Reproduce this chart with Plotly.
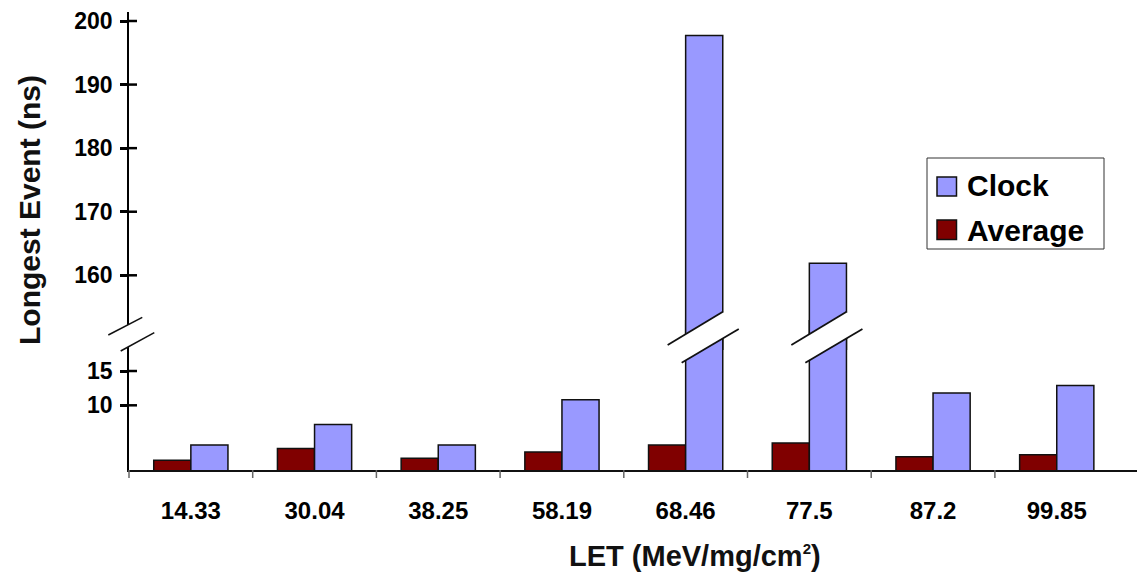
import plotly.graph_objects as go

# ---------------- data ----------------
categories = ["14.33", "30.04", "38.25", "58.19", "68.46", "77.5", "87.2", "99.85"]
clock = [4.2, 7.2, 4.2, 10.8, 197.7, 161.9, 11.8, 12.9]
average = [2.0, 3.7, 2.3, 3.2, 4.2, 4.5, 2.5, 2.8]
lower_ticks = [10, 15]
upper_ticks = [160, 170, 180, 190, 200]
broken_categories = ["68.46", "77.5"]

CLOCK_COLOR = "#9999FF"
AVG_COLOR = "#800000"
FONT = "Liberation Sans, Arial, sans-serif"

# ---------------- layout geometry (screen pixels) ----------------
OFF = 8                                   # page body margin
FIG_W, FIG_H = 1145 - OFF, 583 - OFF
PL, PR, PT, PB = 129, 1145, 12, 470       # plot area edges (screen px)
PW, PH = PR - PL, PB - PT

def xp(px):
    return (px - PL) / PW

def yp(py):
    return (PB - py) / PH

cat_w = 123.7
xmax = PW / cat_w - 0.5

low_px_per_unit = 6.86
low_min = 0.57
low_top_px = 320
low_range = [low_min, low_min + (PB - low_top_px) / low_px_per_unit]

y200_px = 21.0
y160_px = 275.3
up_px_per_unit = (y160_px - y200_px) / 40
up_bot_px = 350
up_range = [200 - (up_bot_px - y200_px) / up_px_per_unit,
            200 + (y200_px - PT) / up_px_per_unit]

fig = go.Figure()

bar_line = dict(color="#111111", width=1.5)

fig.add_trace(go.Bar(x=categories, y=average, name="Average", marker=dict(color=AVG_COLOR, line=bar_line),
                     xaxis="x", yaxis="y", showlegend=False))
fig.add_trace(go.Bar(x=categories, y=clock, name="Clock", marker=dict(color=CLOCK_COLOR, line=bar_line),
                     xaxis="x", yaxis="y", showlegend=False))
fig.add_trace(go.Bar(x=categories, y=average, name="Average", marker=dict(color=AVG_COLOR, line=bar_line),
                     xaxis="x2", yaxis="y2", showlegend=False))
fig.add_trace(go.Bar(x=categories, y=clock, name="Clock", marker=dict(color=CLOCK_COLOR, line=bar_line),
                     xaxis="x2", yaxis="y2", showlegend=False))

shapes = []
annotations = []

for v in lower_ticks:
    shapes.append(dict(type="line", xref="paper", yref="y", x0=0, x1=xp(PL + 8), y0=v, y1=v,
                       line=dict(color="black", width=2.5)))
for v in upper_ticks:
    shapes.append(dict(type="line", xref="paper", yref="y2", x0=0, x1=xp(PL + 8), y0=v, y1=v,
                       line=dict(color="black", width=2.5)))

for i in range(len(categories)):
    bx = PL + i * cat_w
    shapes.append(dict(type="line", xref="paper", yref="paper", x0=xp(bx), x1=xp(bx),
                       y0=0, y1=yp(PB + 8), line=dict(color="#666666", width=1.5)))

def add_break(ax, ay, bx, by, cx, cy, dx, dy, lw=1.8):
    shapes.append(dict(type="path", xref="paper", yref="paper",
                       path=f"M {xp(ax)},{yp(ay)} L {xp(bx)},{yp(by)} L {xp(dx)},{yp(dy)} L {xp(cx)},{yp(cy)} Z",
                       fillcolor="white", line=dict(width=0), layer="above"))
    shapes.append(dict(type="line", xref="paper", yref="paper", x0=xp(ax), y0=yp(ay), x1=xp(bx), y1=yp(by),
                       line=dict(color="#111111", width=lw), layer="above"))
    shapes.append(dict(type="line", xref="paper", yref="paper", x0=xp(cx), y0=yp(cy), x1=xp(dx), y1=yp(dy),
                       line=dict(color="#111111", width=lw), layer="above"))

add_break(PL - 20.7, 335, PL + 13.3, 317.3, PL - 8.3, 351, PL + 25.3, 332.7, lw=1.5)

for c in broken_categories:
    i = categories.index(c)
    left = PL + (i + 0.5) * cat_w
    right = left + 0.3 * cat_w
    add_break(left - 18, 345, right + 0.5, 311.5, left - 4, 362.7, right + 16, 329)

# legend
shapes.append(dict(type="rect", xref="paper", yref="paper", x0=xp(927), x1=xp(1104), y0=yp(158), y1=yp(249),
                   line=dict(color="#333333", width=1), fillcolor="white"))
shapes.append(dict(type="rect", xref="paper", yref="paper", x0=xp(937), x1=xp(956.5), y0=yp(177), y1=yp(196),
                   line=dict(color="#111111", width=1.5), fillcolor=CLOCK_COLOR))
shapes.append(dict(type="rect", xref="paper", yref="paper", x0=xp(937), x1=xp(956.5), y0=yp(220), y1=yp(239.5),
                   line=dict(color="#111111", width=1.5), fillcolor=AVG_COLOR))
annotations.append(dict(text="Clock", xref="paper", yref="paper", x=xp(965), y=yp(185), xanchor="left",
                        yanchor="middle", showarrow=False,
                        font=dict(family=FONT, size=30, color="black", weight="bold")))
annotations.append(dict(text="Average", xref="paper", yref="paper", x=xp(965), y=yp(230), xanchor="left",
                        yanchor="middle", showarrow=False,
                        font=dict(family=FONT, size=30, color="black", weight="bold")))

annotations.append(dict(text="LET (MeV/mg/cm<sup><span style='font-size:15px'>2</span></sup>)",
                        xref="paper", yref="paper", x=xp(695), y=yp(556),
                        xanchor="center", yanchor="middle", showarrow=False,
                        font=dict(family=FONT, size=29, color="#111111", weight="bold")))
annotations.append(dict(text="Longest Event (ns)", xref="paper", yref="paper", x=xp(29), y=yp(210),
                        xanchor="center", yanchor="middle", showarrow=False, textangle=-90,
                        font=dict(family=FONT, size=30, color="#111111", weight="bold")))

tickfont_y = dict(family=FONT, size=23, color="black", weight="bold")
tickfont_x = dict(family=FONT, size=24, color="black", weight="bold")

fig.update_layout(
    width=FIG_W, height=FIG_H,
    margin=dict(l=PL - OFF, r=(FIG_W + OFF) - PR, t=PT - OFF, b=(FIG_H + OFF) - PB, pad=0,
                autoexpand=False),
    paper_bgcolor="white", plot_bgcolor="rgba(0,0,0,0)",
    barmode="group", bargap=0.4, bargroupgap=0,
    showlegend=False,
    xaxis=dict(type="category", range=[-0.5, xmax], anchor="y", domain=[0, 1], automargin=False,
               showline=True, linecolor="#111111", linewidth=1.5, ticks="",
               showgrid=False, zeroline=False, tickfont=tickfont_x, ticklabelstandoff=18),
    xaxis2=dict(type="category", matches="x", anchor="y2", visible=False, automargin=False),
    yaxis=dict(domain=[0, yp(low_top_px)], range=low_range, tickvals=lower_ticks, automargin=False,
               showline=True, linecolor="black", linewidth=1.5, ticks="outside", ticklen=7,
               tickwidth=2.5, tickcolor="black", showgrid=False, zeroline=False,
               tickfont=tickfont_y, ticklabelstandoff=3, ticklabeloverflow="allow"),
    yaxis2=dict(domain=[yp(up_bot_px), 1], range=up_range, tickvals=upper_ticks, anchor="x2",
                automargin=False,
                showline=True, linecolor="black", linewidth=1.5, ticks="outside", ticklen=7,
                tickwidth=2.5, tickcolor="black", showgrid=False, zeroline=False,
                tickfont=tickfont_y, ticklabelstandoff=3, ticklabeloverflow="allow"),
    shapes=shapes,
    annotations=annotations,
)

fig.write_html("out.html")
